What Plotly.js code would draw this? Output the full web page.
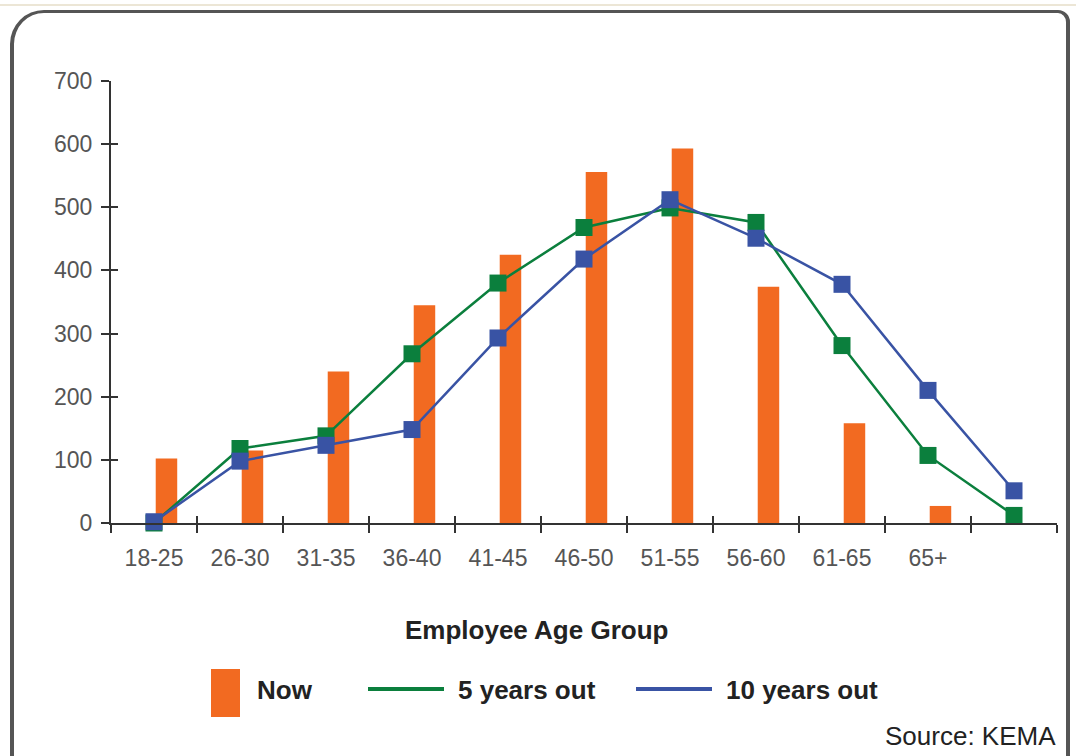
<!DOCTYPE html>
<html>
<head>
<meta charset="utf-8">
<script src="https://cdn.plot.ly/plotly-3.0.1.min.js"></script>
<style>
  html, body { margin:0; padding:0; background:#fff; overflow:hidden; }
  #wrap { position:relative; width:1076px; height:756px; }
  #chart { position:absolute; left:0; top:0; width:1076px; height:756px; }
  #frame { position:absolute; left:10px; top:10px; width:1060px; height:800px;
           border:4px solid #555; border-top-width:3px; border-radius:34px 12px 0 0;
           box-sizing:border-box; pointer-events:none; }
  #topline { position:absolute; left:0; top:4px; width:1076px; height:2px; background:#ece6d6; pointer-events:none; }
</style>
</head>
<body>
<div id="wrap">
  <div id="chart"></div>
  <div id="topline"></div>
  <div id="frame"></div>
</div>
<script>
// ---- data ----
const ageGroups = ['18-25','26-30','31-35','36-40','41-45','46-50','51-55','56-60','61-65','65+'];
const lineGroups = ageGroups.concat([' ']);
const nowValues = [102, 115, 240, 345, 425, 556, 593, 374, 158, 27];
const fiveYears = [0, 118, 138, 268, 380, 468, 499, 476, 281, 107, 12];
const tenYears  = [2, 98, 123, 148, 293, 418, 512, 451, 378, 210, 51];
const yTicks = [0, 100, 200, 300, 400, 500, 600, 700];

const ORANGE = '#f26a21', GREEN = '#0b7f3d', BLUE = '#3953a4';
const tickFont = {family:'Liberation Sans, Arial', size:23, color:'#555'};
const boldFont = {family:'Liberation Sans, Arial', size:26, color:'#222', weight:'bold'};

const traces = [
  {type:'bar', name:'Now', x:ageGroups, y:nowValues, xaxis:'x', yaxis:'y',
   marker:{color:ORANGE}, width:0.25, offset:0.02, legend:'legend'},
  {type:'scatter', mode:'lines+markers', name:'5 years out', x:lineGroups, y:fiveYears,
   xaxis:'x2', yaxis:'y2', line:{color:GREEN, width:2.5},
   marker:{symbol:'square', size:17, color:GREEN}, cliponaxis:false, legend:'legend2'},
  {type:'scatter', mode:'lines+markers', name:'10 years out', x:lineGroups, y:tenYears,
   xaxis:'x2', yaxis:'y2', line:{color:BLUE, width:2.5},
   marker:{symbol:'square', size:17, color:BLUE}, cliponaxis:false, legend:'legend3'}
];
const legendColors = [ORANGE, GREEN, BLUE];

const xBase = {type:'category', categoryorder:'array', categoryarray:lineGroups,
  range:[-0.5, 10.5], tickson:'boundaries', showgrid:false, zeroline:false,
  linecolor:'#333', linewidth:2, tickcolor:'#333', tickwidth:2, fixedrange:true};
const yBase = {range:[0,700], tickvals:yTicks, showgrid:false, zeroline:false,
  linecolor:'#333', linewidth:2, tickcolor:'#333', tickwidth:2, fixedrange:true};

const legendBase = {orientation:'h', font:boldFont, bgcolor:'rgba(0,0,0,0)',
  itemwidth:90, y:-0.376, yanchor:'middle', xanchor:'left', itemclick:false, itemdoubleclick:false};

const layout = {
  width:1076, height:756,
  margin:{l:111, r:19, t:81, b:233},
  paper_bgcolor:'rgba(0,0,0,0)', plot_bgcolor:'rgba(0,0,0,0)',
  xaxis: Object.assign({}, xBase, {showline:true, ticks:'outside', ticklen:8,
    tickfont:tickFont, ticklabelstandoff:13}),
  xaxis2: Object.assign({}, xBase, {overlaying:'x', anchor:'y2', showline:false,
    ticks:'inside', ticklen:7, showticklabels:false}),
  yaxis: Object.assign({}, yBase, {showline:true, ticks:'outside', ticklen:8,
    tickfont:tickFont, ticklabelstandoff:4}),
  yaxis2: Object.assign({}, yBase, {overlaying:'y', anchor:'x2', showline:false,
    ticks:'inside', ticklen:7, showticklabels:false}),
  legend: Object.assign({}, legendBase, {x:(157-111)/946}),
  legend2: Object.assign({}, legendBase, {x:(358-111)/946}),
  legend3: Object.assign({}, legendBase, {x:(626-111)/946}),
  annotations:[
    {text:'Employee Age Group', xref:'paper', yref:'paper', x:(536-111)/946, y:(522.7-630)/441.7,
     xanchor:'center', yanchor:'middle', showarrow:false, font:boldFont},
    {text:'Source: KEMA', xref:'paper', yref:'paper', x:(1058-111)/946, y:(522.7-736)/441.7,
     xanchor:'right', yanchor:'middle', showarrow:false,
     font:{family:'Liberation Sans, Arial', size:26, color:'#222'}}
  ],
  showlegend:true
};

const SVGNS = 'http://www.w3.org/2000/svg';
function restyleLegends(gd){
  ['legend','legend2','legend3'].forEach(function(id, k){
    const g = gd.querySelector('g.' + id);
    if (!g) return;
    g.querySelectorAll('[clip-path]').forEach(function(el){ el.removeAttribute('clip-path'); });
    const item = g.querySelector('g.traces');
    if (!item) return;
    const layers = item.querySelector('g.layers') || item.querySelector('g.legendpoints');
    if (!layers) return;
    while (layers.firstChild) layers.removeChild(layers.firstChild);
    const p = document.createElementNS(SVGNS, 'path');
    if (k === 0) {
      p.setAttribute('d', 'M54,-20h29v48h-29Z');
      p.setAttribute('fill', legendColors[k]);
    } else {
      p.setAttribute('d', 'M10,0h76');
      p.setAttribute('stroke', legendColors[k]);
      p.setAttribute('stroke-width', '4');
      p.setAttribute('fill', 'none');
    }
    layers.appendChild(p);
  });
}

Plotly.newPlot('chart', traces, layout, {displayModeBar:false, staticPlot:true}).then(function(gd){
  restyleLegends(gd);
  gd.on && gd.on('plotly_afterplot', function(){ restyleLegends(gd); });
});
</script>
</body>
</html>
